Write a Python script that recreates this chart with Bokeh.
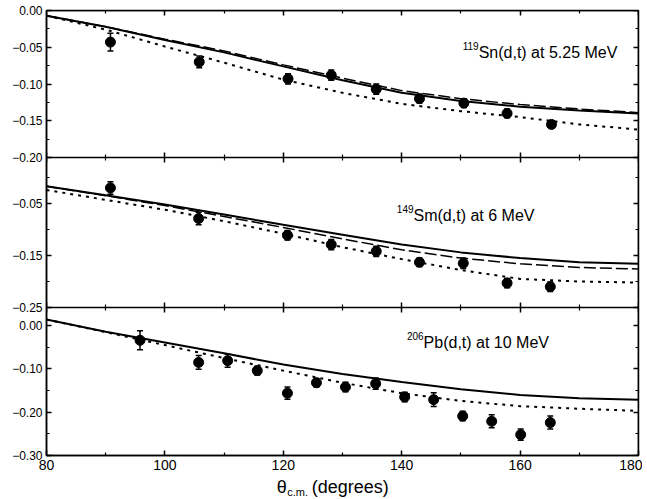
from bokeh.plotting import figure
from bokeh.layouts import column
from bokeh.models import (Range1d, LinearAxis, FixedTicker, CustomJSTickFormatter,
                          ColumnDataSource, Whisker, TeeHead, Label)
from bokeh.core.properties import value
from bokeh.embed import file_html
from bokeh.resources import INLINE

FONT = "Liberation Sans"

# ---------------- data ----------------
theta_grid = [80, 90, 100, 110, 120, 130, 140, 150, 160, 170, 180]

# 119Sn(d,t) at 5.25 MeV
sn_solid = [-0.007, -0.022, -0.040, -0.057, -0.076, -0.095, -0.112, -0.123, -0.131, -0.136, -0.140]
sn_dashed = [-0.007, -0.022, -0.039, -0.055, -0.074, -0.092, -0.109, -0.120, -0.128, -0.134, -0.139]
sn_dotted = [-0.007, -0.026, -0.049, -0.071, -0.094, -0.112, -0.127, -0.137, -0.145, -0.155, -0.162]
sn_theta = [90.8, 105.8, 120.8, 128.1, 135.7, 143.0, 150.5, 157.8, 165.3]
sn_val = [-0.043, -0.070, -0.093, -0.088, -0.107, -0.120, -0.126, -0.140, -0.155]
sn_err = [0.012, 0.008, 0.007, 0.007, 0.007, 0.006, 0.006, 0.006, 0.005]

# 149Sm(d,t) at 6 MeV
sm_solid = [-0.017, -0.034, -0.052, -0.071, -0.091, -0.110, -0.129, -0.144, -0.155, -0.163, -0.166]
sm_dashed = [-0.017, -0.035, -0.054, -0.075, -0.096, -0.118, -0.139, -0.155, -0.166, -0.173, -0.176]
sm_dotted = [-0.024, -0.043, -0.062, -0.084, -0.108, -0.134, -0.157, -0.178, -0.195, -0.200, -0.202]
sm_theta = [90.8, 105.7, 120.7, 128.1, 135.7, 143.0, 150.4, 157.8, 165.1]
sm_val = [-0.020, -0.079, -0.111, -0.129, -0.142, -0.163, -0.165, -0.203, -0.210]
sm_err = [0.012, 0.012, 0.009, 0.010, 0.010, 0.008, 0.010, 0.009, 0.009]

# 206Pb(d,t) at 10 MeV
pb_solid = [0.014, -0.014, -0.039, -0.064, -0.090, -0.112, -0.130, -0.147, -0.160, -0.168, -0.171]
pb_dotted = [0.014, -0.015, -0.045, -0.075, -0.104, -0.132, -0.156, -0.174, -0.186, -0.192, -0.197]
pb_theta = [95.8, 105.7, 110.6, 115.6, 120.7, 125.6, 130.5, 135.6, 140.5, 145.4, 150.3, 155.2, 160.1, 165.1]
pb_val = [-0.034, -0.085, -0.081, -0.104, -0.156, -0.132, -0.142, -0.134, -0.165, -0.171, -0.209, -0.221, -0.252, -0.224]
pb_err = [0.022, 0.016, 0.015, 0.010, 0.014, 0.010, 0.011, 0.013, 0.011, 0.016, 0.011, 0.015, 0.013, 0.015]

# ticks
x_major = [80, 100, 120, 140, 160, 180]
x_minor = [90, 110, 130, 150, 170]
sn_major = [0.00, -0.05, -0.10, -0.15, -0.20]
sn_minor = [-0.025, -0.075, -0.125, -0.175]
sm_major = [-0.05, -0.15, -0.25]
sm_minor = [0.00, -0.10, -0.20]
pb_major = [0.00, -0.10, -0.20, -0.30]
pb_minor = [-0.05, -0.15, -0.25]

# ---------------- layout ----------------
FRAME_H = 445
W = 642
H_MAIN = 476
H_TITLE = 23
BL, BR, BT = 46, 4, 10
# panel: (bottom of panel in frame px, top px, data value at bottom, px per unit)
panels = {
    "sn": (298, 445, -0.20, 735.0),
    "sm": (148, 298, -0.25, 520.0),
    "pb": (0, 148, -0.30, 433.0),
}

def to_main(name, v):
    b0, b1, lo, s = panels[name]
    return b0 + (v - lo) * s

p = figure(width=W, height=H_MAIN, x_range=Range1d(80, 180), y_range=Range1d(0, FRAME_H),
           output_backend="svg", toolbar_location=None, title=None,
           min_border_left=BL, min_border_right=BR, min_border_top=BT,
           min_border_bottom=H_MAIN - BT - FRAME_H)
p.grid.visible = False
p.outline_line_color = "black"
p.outline_line_width = 1.5
p.background_fill_color = "white"

for name, (b0, b1, lo, s) in panels.items():
    p.extra_y_ranges[name] = Range1d(lo - b0 / s, lo + (FRAME_H - b0) / s)

def fmt(v):
    return ("\u2212" if v < -1e-9 else "") + f"{abs(v):.2f}"

y_major_pos, y_major_lab, y_minor_pos = [], [], []
for name, majors, minors in (("sn", sn_major, sn_minor), ("sm", sm_major, sm_minor), ("pb", pb_major, pb_minor)):
    for v in majors:
        y_major_pos.append(to_main(name, v))
        y_major_lab.append(fmt(v))
    for v in minors:
        y_minor_pos.append(to_main(name, v))

y_ticker = FixedTicker(ticks=y_major_pos, minor_ticks=y_minor_pos)
x_ticker = FixedTicker(ticks=x_major, minor_ticks=x_minor)
blank = CustomJSTickFormatter(code="return '';")

def style_axis(ax, tin=5, tout=0, mtin=3, mtout=0):
    ax.axis_line_color = "black"
    ax.axis_line_width = 1.5
    ax.major_tick_line_color = "black"
    ax.minor_tick_line_color = "black"
    ax.major_tick_line_width = 1.5
    ax.minor_tick_line_width = 1.2
    ax.major_tick_in = tin
    ax.major_tick_out = tout
    ax.minor_tick_in = mtin
    ax.minor_tick_out = mtout

# left axis with labels
ly = p.yaxis[0]
ly.ticker = y_ticker
ly.formatter = CustomJSTickFormatter(
    args=dict(pos=y_major_pos, labs=y_major_lab),
    code="const i = pos.findIndex(t => Math.abs(t - tick) < 1e-6); return i >= 0 ? labs[i] : '';")
style_axis(ly)
ly.major_label_standoff = 4
ly.major_label_text_font = FONT
ly.major_label_text_font_size = "12px"
ly.major_label_text_color = "black"

# bottom axis with labels
bx = p.xaxis[0]
bx.ticker = x_ticker
style_axis(bx)
bx.major_label_standoff = 4
bx.major_label_text_font = FONT
bx.major_label_text_font_size = "14px"
bx.major_label_text_color = "black"

# right / top / internal axes drawn at fixed locations
ra = LinearAxis(ticker=y_ticker, formatter=blank, fixed_location=180)
style_axis(ra)
p.add_layout(ra, "right")

ta = LinearAxis(ticker=x_ticker, formatter=blank, fixed_location=FRAME_H)
style_axis(ta)
p.add_layout(ta, "above")

for loc in (panels["sn"][0], panels["sm"][0]):
    ia = LinearAxis(ticker=x_ticker, formatter=blank, fixed_location=loc)
    style_axis(ia, tin=5, tout=5, mtin=3, mtout=3)
    p.add_layout(ia, "below")

# ---------------- data drawing ----------------
def draw_panel(name, solid, dashed, dotted, th, val, err):
    p.line(theta_grid, solid, y_range_name=name, line_color="black", line_width=2)
    if dashed is not None:
        p.line(theta_grid, dashed, y_range_name=name, line_color="black", line_width=1.5,
               line_dash="12 4")
    p.line(theta_grid, dotted, y_range_name=name, line_color="black", line_width=2,
           line_dash="3 5")
    src = ColumnDataSource(dict(x=th, y=val,
                                upper=[v + e for v, e in zip(val, err)],
                                lower=[v - e for v, e in zip(val, err)]))
    w = Whisker(source=src, base="x", upper="upper", lower="lower", dimension="height",
                y_range_name=name, line_color="black", line_width=1.5,
                upper_head=TeeHead(size=6, line_color="black", line_width=1.5),
                lower_head=TeeHead(size=6, line_color="black", line_width=1.5))
    p.add_layout(w)
    p.scatter("x", "y", source=src, y_range_name=name, size=10, marker="circle",
              fill_color="black", line_color="black")

draw_panel("sn", sn_solid, sn_dashed, sn_dotted, sn_theta, sn_val, sn_err)
draw_panel("sm", sm_solid, sm_dashed, sm_dotted, sm_theta, sm_val, sm_err)
draw_panel("pb", pb_solid, None, pb_dotted, pb_theta, pb_val, pb_err)

# ---------------- panel titles ----------------
titles = [
    ("sn", 153.0, -0.057, "119", "Sn(d,t) at 5.25 MeV"),
    ("sm", 142.0, -0.073, "149", "Sm(d,t) at 6 MeV"),
    ("pb", 143.7, -0.039, "206", "Pb(d,t) at 10 MeV"),
]
for name, tx, ty, sup, txt in titles:
    p.add_layout(Label(x=tx, y=ty, y_range_name=name, text=txt, text_font=FONT,
                       text_font_size="16px", text_baseline="middle", text_align="left",
                       text_color="black"))
    p.add_layout(Label(x=tx, y=ty, y_range_name=name, text=sup, text_font=FONT,
                       text_font_size="10px", text_baseline="middle", text_align="right",
                       y_offset=6, text_color="black"))

# ---------------- x axis title (separate strip) ----------------
pt = figure(width=W, height=H_TITLE, x_range=p.x_range, y_range=Range1d(0, H_TITLE),
            output_backend="svg", toolbar_location=None, x_axis_type=None, y_axis_type=None,
            title=None, min_border=0,
            min_border_left=BL, min_border_right=BR, min_border_top=0, min_border_bottom=0)
pt.grid.visible = False
pt.outline_line_color = None
pt.text(x=[118.9], y=[12.5], text=["\u03b8"], text_font=value(FONT), text_font_size="18px",
        text_baseline="middle", text_align="left", text_color="black")
pt.text(x=[118.9], y=[8], x_offset=10.5, text=["c.m."], text_font=value(FONT),
        text_font_size="11px", text_baseline="middle", text_align="left", text_color="black")
pt.text(x=[118.9], y=[12.5], x_offset=35, text=["(degrees)"], text_font=value(FONT),
        text_font_size="18px", text_baseline="middle", text_align="left", text_color="black")

layout = column(p, pt, spacing=0)
open("out.html", "w").write(file_html(layout, INLINE))
